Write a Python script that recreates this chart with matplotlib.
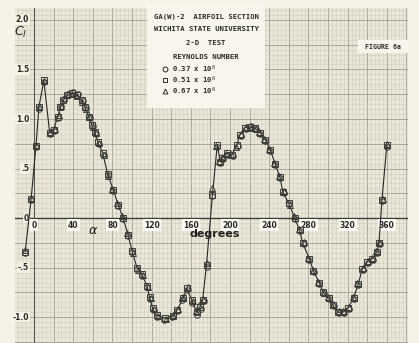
import matplotlib.pyplot as plt
from matplotlib.ticker import MultipleLocator
from matplotlib.patches import Rectangle

# section lift coefficient vs angle of attack, three Reynolds numbers
alpha_37 = [-9, -3, 2, 5, 10, 16, 20, 24, 28, 31, 35, 40, 45, 50, 53, 57, 60, 63, 66, 71, 76, 81, 86, 91, 96, 100, 105, 110,
            115, 118, 122, 126, 133, 141, 146, 151, 156, 161, 166, 170, 173, 176, 182, 187, 190, 193, 198, 203, 208, 211,
            216, 221, 226, 231, 236, 241, 246, 251, 255, 260, 266, 271, 275, 281, 286, 291, 296, 301, 306, 311, 316, 321,
            326, 331, 336, 341, 346, 350, 353, 355, 360]
cl_37 = [-0.35, 0.18, 0.72, 1.10, 1.37, 0.85, 0.88, 1.01, 1.13, 1.20, 1.25, 1.27, 1.25, 1.18, 1.11, 1.01, 0.93, 0.85, 0.75,
         0.64, 0.44, 0.27, 0.12, -0.01, -0.18, -0.34, -0.51, -0.58, -0.70, -0.82, -0.93, -1.00, -1.03, -1.00, -0.94, -0.83,
         -0.73, -0.86, -0.98, -0.92, -0.84, -0.49, 0.22, 0.72, 0.56, 0.60, 0.64, 0.63, 0.73, 0.83, 0.90, 0.93, 0.90, 0.85,
         0.78, 0.68, 0.54, 0.40, 0.25, 0.14, -0.01, -0.13, -0.26, -0.42, -0.54, -0.66, -0.76, -0.82, -0.89, -0.96, -0.96,
         -0.92, -0.82, -0.67, -0.52, -0.45, -0.42, -0.35, -0.26, 0.17, 0.72]

alpha_51 = [-9, -3, 2, 5, 10, 16, 20, 24, 27, 30, 34, 39, 44, 49, 52, 56, 59, 62, 65, 70, 75, 81, 86, 91, 96, 100, 105, 110,
            115, 118, 121, 125, 134, 142, 146, 152, 156, 161, 166, 169, 172, 176, 182, 187, 190, 192, 197, 202, 207, 210,
            215, 220, 225, 231, 236, 241, 246, 251, 254, 260, 266, 271, 274, 281, 285, 291, 295, 301, 305, 310, 315, 320,
            326, 331, 335, 340, 345, 350, 352, 355, 360]
cl_51 = [-0.34, 0.19, 0.73, 1.12, 1.39, 0.86, 0.89, 1.02, 1.12, 1.19, 1.24, 1.26, 1.24, 1.19, 1.12, 1.02, 0.94, 0.87, 0.77,
         0.66, 0.45, 0.28, 0.13, 0.00, -0.17, -0.33, -0.50, -0.56, -0.68, -0.80, -0.91, -0.98, -1.01, -0.99, -0.93, -0.81,
         -0.71, -0.83, -0.95, -0.90, -0.83, -0.47, 0.23, 0.74, 0.57, 0.61, 0.66, 0.64, 0.74, 0.84, 0.91, 0.92, 0.91, 0.86,
         0.79, 0.69, 0.55, 0.41, 0.26, 0.15, 0.00, -0.12, -0.25, -0.41, -0.53, -0.65, -0.75, -0.81, -0.88, -0.95, -0.95,
         -0.91, -0.81, -0.66, -0.51, -0.44, -0.41, -0.34, -0.25, 0.18, 0.74]

alpha_67 = [-9, -3, 2, 5, 10, 16, 21, 25, 28, 31, 35, 39, 44, 49, 53, 56, 60, 63, 66, 71, 76, 80, 85, 90, 95, 101, 106, 111,
            116, 119, 122, 127, 135, 142, 147, 152, 157, 162, 165, 168, 172, 176, 182, 186, 189, 192, 196, 201, 206, 211,
            216, 221, 226, 230, 235, 240, 245, 250, 255, 261, 265, 270, 275, 280, 285, 290, 296, 300, 305, 311, 315, 321,
            325, 330, 336, 341, 345, 349, 352, 356, 360]
cl_67 = [-0.32, 0.20, 0.74, 1.13, 1.38, 0.87, 0.90, 1.04, 1.13, 1.21, 1.25, 1.25, 1.23, 1.17, 1.10, 1.03, 0.92, 0.86, 0.76,
         0.64, 0.43, 0.29, 0.15, 0.02, -0.15, -0.35, -0.52, -0.57, -0.69, -0.81, -0.92, -0.99, -1.02, -0.98, -0.92, -0.80,
         -0.70, -0.84, -0.94, -0.88, -0.82, -0.45, 0.30, 0.73, 0.58, 0.62, 0.65, 0.65, 0.72, 0.85, 0.92, 0.91, 0.90, 0.87,
         0.80, 0.70, 0.56, 0.43, 0.27, 0.13, 0.02, -0.11, -0.24, -0.40, -0.52, -0.64, -0.76, -0.80, -0.87, -0.94, -0.94,
         -0.90, -0.80, -0.65, -0.50, -0.43, -0.40, -0.33, -0.24, 0.19, 0.75]

x_ticks = [0, 40, 80, 120, 160, 200, 240, 280, 320, 360]
y_ticks = [-1.0, -0.5, 0.0, 0.5, 1.0, 1.5, 2.0]
y_labels = ['-1.0', '-.5', '0', '.5', '1.0', '1.5', '2.0']
legend_lines = ['GA(W)-2  AIRFOIL SECTION', 'WICHITA STATE UNIVERSITY', '2-D  TEST', 'REYNOLDS NUMBER']
re_labels = ['0.37 x 10$^6$', '0.51 x 10$^6$', '0.67 x 10$^6$']

W, H = 419, 343
fig = plt.figure(figsize=(W / 100, H / 100), dpi=100)
fig.patch.set_facecolor('#f6f3e6')
ax = fig.add_axes([15 / W, 0, 393 / W, 335 / H])
ax.set_facecolor('#eae7d8')
ax.set_xlim(-19.4, 381.6)
ax.set_ylim(-1.26, 2.12)
for s in ax.spines.values():
    s.set_visible(False)

# graph paper
ax.xaxis.set_major_locator(MultipleLocator(20))
ax.xaxis.set_minor_locator(MultipleLocator(4))
ax.yaxis.set_major_locator(MultipleLocator(0.25))
ax.yaxis.set_minor_locator(MultipleLocator(0.05))
ax.grid(which='major', color='#a19e92', lw=0.6)
ax.grid(which='minor', color='#d0cdbf', lw=0.4)
ax.tick_params(which='both', length=0, labelbottom=False, labelleft=False)
ax.set_axisbelow(True)

ax.axhline(0, color='#3a3a36', lw=1.0, zorder=1)
ax.axvline(0, color='#55534c', lw=0.8, zorder=1)

for y, lab in zip(y_ticks, y_labels):
    ax.text(-5, y, lab, ha='right', va='center', fontsize=5.5, fontweight='bold', color='#2a2a28',
            bbox=dict(boxstyle='square,pad=0.1', fc='#f6f3e6', ec='none'))
ax.text(-14, 1.87, '$C_l$', ha='center', va='center', fontsize=9, color='#1e1e1c')

for x in x_ticks:
    ax.annotate(str(x), (x, 0), xytext=(0, -5), textcoords='offset points', ha='center', va='center',
                fontsize=5.5, fontweight='bold', color='#2a2a28',
                bbox=dict(boxstyle='square,pad=0.15', fc='#fbfaf4', ec='none'))
ax.annotate(r'$\alpha$', (60, 0), xytext=(0, -9), textcoords='offset points', ha='center', va='center',
            fontsize=9, color='#1e1e1c')
ax.annotate('degrees', (184, 0), xytext=(0, -11.5), textcoords='offset points', ha='center', va='center',
            fontsize=8, fontweight='bold', color='#1e1e1c')

ax.plot(alpha_51, cl_51, color='#262624', lw=0.8, zorder=3)
mk = dict(ls='none', mfc='none', mec='#3c3c38', mew=0.7, ms=4, zorder=4)
ax.plot(alpha_37, cl_37, marker='o', **mk)
ax.plot(alpha_51, cl_51, marker='s', **mk)
ax.plot(alpha_67, cl_67, marker='^', **mk)

# title / legend card
fig.add_artist(Rectangle((147 / W, 1 - 108 / H), 118 / W, 105 / H, transform=fig.transFigure,
                         fc='#f8f6ec', ec='none', zorder=5))
for txt, yp in zip(legend_lines, [17, 29, 43, 57]):
    fig.text(206 / W, 1 - yp / H, txt, ha='center', va='center', fontsize=5.2, fontweight='bold',
             family='DejaVu Sans Mono', color='#2a2a28', zorder=6)
for m, txt, yp in zip(['o', 's', '^'], re_labels, [69, 80, 91]):
    fig.add_artist(plt.Line2D([165 / W], [1 - yp / H], marker=m, ms=3.5, mfc='none', mec='#2a2a28',
                              mew=0.7, transform=fig.transFigure, zorder=6))
    fig.text(172 / W, 1 - yp / H, txt, ha='left', va='center', fontsize=5.2, fontweight='bold',
             family='DejaVu Sans Mono', color='#2a2a28', zorder=6)

fig.add_artist(Rectangle((358 / W, 1 - 53 / H), 50 / W, 13 / H, transform=fig.transFigure,
                         fc='#f8f6ec', ec='none', zorder=5))
fig.text(383 / W, 1 - 47 / H, 'FIGURE 6a', ha='center', va='center', fontsize=4.8, fontweight='bold',
         family='DejaVu Sans Mono', color='#2a2a28', zorder=6)

fig.savefig('out.png', dpi=100, facecolor=fig.get_facecolor())
